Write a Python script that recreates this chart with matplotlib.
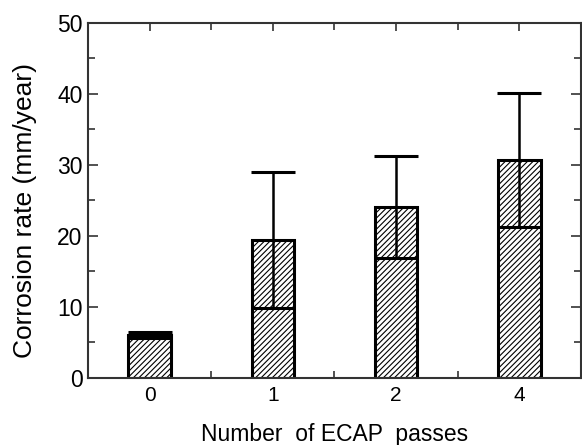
import numpy as np
import matplotlib.pyplot as plt
from matplotlib.ticker import MultipleLocator

plt.rcParams['font.family'] = ['Liberation Sans', 'DejaVu Sans']
plt.rcParams['hatch.color'] = '#9a9a9a'
plt.rcParams['hatch.linewidth'] = 0.8

# data
passes = ['0', '1', '2', '4']
rate = [6.05, 19.4, 24.1, 30.7]
rate_err = [0.45, 9.6, 7.2, 9.5]

fig = plt.figure(figsize=(5.82, 4.45), dpi=100)
ax = fig.add_axes([0.1512, 0.1506, 0.847, 0.7978])

x = np.arange(len(passes))
ax.bar(x, rate, width=0.345, facecolor='white', edgecolor='black',
       linewidth=2.2, hatch='//////', zorder=2)
ax.errorbar(x, rate, yerr=rate_err, fmt='none', ecolor='black',
            elinewidth=1.8, capsize=15.5, capthick=2.2, zorder=3)

ax.set_xlim(-0.5, 3.5)
ax.set_ylim(0, 50)
ax.set_xticks(x)
ax.set_xticklabels(passes)
ax.xaxis.set_minor_locator(MultipleLocator(0.5))
ax.yaxis.set_major_locator(MultipleLocator(10))
ax.yaxis.set_minor_locator(MultipleLocator(5))

ax.tick_params(which='both', direction='in', top=True, right=True,
               color='#333333', width=1.2)
ax.tick_params(axis='y', which='major', length=7, labelsize=16.5, pad=4)
ax.tick_params(axis='y', which='minor', length=5)
ax.tick_params(axis='x', which='major', length=6, labelsize=15, pad=6)
ax.tick_params(axis='x', which='minor', length=5)

for s in ax.spines.values():
    s.set_linewidth(1.5)
    s.set_color('#333333')

ax.set_ylabel('Corrosion rate (mm/year)', fontsize=19)
ax.yaxis.set_label_coords(-0.103, 0.473)
ax.set_xlabel('Number  of ECAP  passes', fontsize=16.5, labelpad=13)

fig.savefig('out.png', dpi=100)
